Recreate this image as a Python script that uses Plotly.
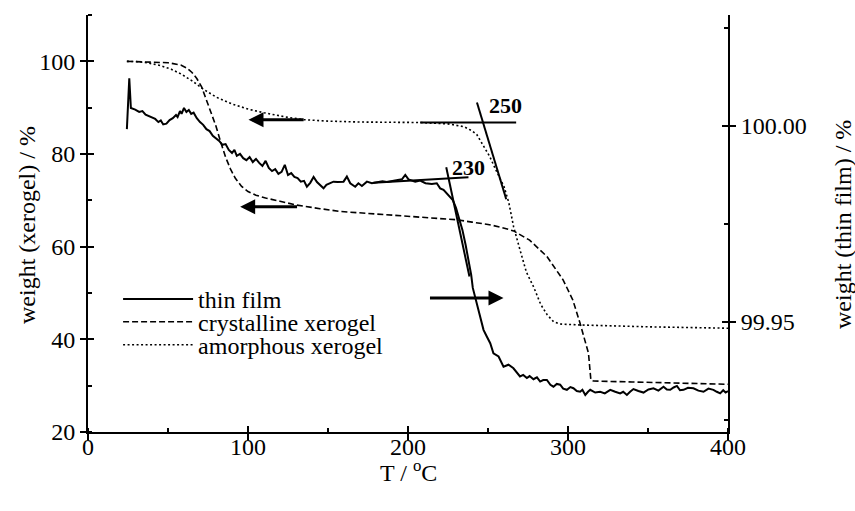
import plotly.graph_objects as go

# ---------------- data ----------------
# thin film (right axis, weight %)
film_T = [24.3, 25.8, 26.8, 29.5, 32, 34, 36, 38, 40, 42, 44, 45.5, 47, 49, 51, 53, 55, 56, 57.5, 58.5,
          60, 61.5, 63, 64.5, 66, 68, 70, 72, 74, 76, 78, 80, 82, 84, 86, 88, 90, 91.5, 93, 95,
          97, 99, 101, 103, 105, 107, 109, 111, 113, 115, 117, 119, 121, 123, 125, 127, 129, 131, 133, 135,
          136.8, 138.9, 141, 143.1, 145, 147.2, 149, 151.4, 153.4, 156, 159.7, 161.8, 163.9, 167, 169, 171.2, 174.3, 177.4, 180.6, 184,
          186.8, 190, 193, 196.2, 198.3, 200.3, 204.5, 207.6, 210.9, 214.9, 218, 220.1, 222.2, 224.3, 226, 228, 230, 232, 234, 236,
          238, 239.5, 240.5, 242, 244, 246, 247.2, 249, 251.4, 253.4, 256.6, 259.7, 262.8, 265.9, 268, 270, 272, 274.3, 276, 278.4,
          280.6, 282.6, 284.5, 286.8, 289, 290.9, 293, 295.1, 297, 299.3, 301.5, 303.4, 305.5, 307.6, 309, 310.8, 312.5, 313.9, 317, 320.1,
          323, 326.4, 329.5, 332.6, 334.5, 336.8, 338.8, 340.9, 344, 347.2, 350.3, 353.4, 356.5, 359.7, 361.8, 363.9, 366, 368.1, 370, 372.2,
          375, 378.4, 381.5, 384.7, 387.8, 390.9, 393, 395.1, 397, 398.5, 400]
film_W = [99.9992, 100.0122, 100.0046, 100.0042, 100.0036, 100.0038, 100.0029, 100.0026, 100.0022, 100.0018,
          100.0010, 100.0014, 100.0004, 100.0006, 100.0015, 100.0020, 100.0028, 100.0023, 100.0038, 100.0031,
          100.0046, 100.0036, 100.0041, 100.0031, 100.0034, 100.0020, 100.0010, 100.0003, 99.9992, 99.9987,
          99.9975, 99.9969, 99.9962, 99.9952, 99.9954, 99.9939, 99.9931, 99.9939, 99.9924, 99.9929,
          99.9918, 99.9913, 99.9921, 99.9908, 99.9916, 99.9906, 99.9898, 99.9911, 99.9893, 99.9885,
          99.9890, 99.9878, 99.9883, 99.9901, 99.9875, 99.9880, 99.9870, 99.9867, 99.9858, 99.9860,
          99.9845, 99.9855, 99.9870, 99.9857, 99.9850, 99.9841, 99.9850, 99.9854, 99.9858, 99.9857,
          99.9858, 99.9871, 99.9854, 99.9845, 99.9854, 99.9847, 99.9858, 99.9854, 99.9856, 99.9859,
          99.9857, 99.9860, 99.9861, 99.9864, 99.9875, 99.9864, 99.9858, 99.9861, 99.9854, 99.9852,
          99.9854, 99.9841, 99.9837, 99.9828, 99.9822, 99.9811, 99.9791, 99.9765, 99.9735, 99.9697,
          99.9658, 99.9620, 99.9587, 99.9564, 99.9526, 99.9500, 99.9480, 99.9465, 99.9446, 99.9420,
          99.9412, 99.9386, 99.9391, 99.9382, 99.9372, 99.9361, 99.9365, 99.9357, 99.9362, 99.9354,
          99.9359, 99.9348, 99.9352, 99.9352, 99.9340, 99.9335, 99.9342, 99.9340, 99.9330, 99.9327,
          99.9334, 99.9331, 99.9324, 99.9322, 99.9327, 99.9314, 99.9322, 99.9327, 99.9320, 99.9322,
          99.9318, 99.9327, 99.9322, 99.9318, 99.9322, 99.9314, 99.9322, 99.9329, 99.9324, 99.9320,
          99.9328, 99.9331, 99.9325, 99.9335, 99.9328, 99.9327, 99.9333, 99.9337, 99.9326, 99.9327,
          99.9332, 99.9331, 99.9325, 99.9322, 99.9330, 99.9327, 99.9322, 99.9318, 99.9326, 99.9320, 99.9324]

# crystalline xerogel (left axis)
cryst_T = [24.3, 30, 40, 50, 58, 62, 65, 68, 71, 74, 77, 80, 83, 86, 89, 92, 96, 100, 105, 111,
           120, 130, 145, 157.6, 174, 182.6, 200, 216, 230.5, 240, 250, 258, 266, 276, 286.8, 297, 303, 307.6, 311, 312.8,
           314.3, 316, 340, 370, 400]
cryst_W = [100.0, 99.95, 99.9, 99.7, 99.2, 98.5, 97.6, 96.3, 94.5, 91.8, 89.0, 86.0, 82.5, 79.3, 76.8, 74.8, 73.0, 71.9, 71.1, 70.5,
           69.8, 69.0, 68.2, 67.6, 67.2, 67.0, 66.6, 66.1, 65.8, 65.3, 64.8, 64.2, 63.4, 61.4, 57.9, 52.8, 48.5, 43.4, 39.5, 37.0,
           31.2, 31.0, 30.8, 30.55, 30.3]

# amorphous xerogel (left axis)
amor_T = [24.3, 30, 37, 45, 52, 58, 65, 72, 80, 90, 100, 110, 125, 135, 150, 170, 207, 225, 235, 240,
          243, 247, 251, 255, 260, 263, 266, 270, 274, 278.4, 283, 287, 291, 295, 307.6, 350, 400]
amor_W = [100.0, 99.95, 99.7, 99.1, 98.3, 97.3, 95.8, 94.0, 92.3, 90.8, 89.7, 88.9, 87.9, 87.4, 87.1, 86.9, 86.8, 86.5, 85.9, 85.0,
          84.2, 82.0, 79.5, 76.5, 73.0, 69.5, 64.3, 59.3, 54.5, 51.4, 47.5, 45.3, 43.8, 43.3, 43.1, 42.7, 42.4]

# onset tangent lines
tan230h_T = [178.4, 237.8]; tan230h_W = [99.9855, 99.9869]
tan230s_T = [223.9, 238.4]; tan230s_W = [99.9895, 99.9616]
tan250h_T = [207.6, 267.6]; tan250h_W = [86.8, 86.8]
tan250s_T = [243.1, 261.4]; tan250s_W = [91.1, 70.25]

# arrows (tail T, head T, level)
arrow_amor = (135.7, 100.3, 87.4)
arrow_cryst = (131.6, 95.1, 68.6)
arrow_film = (212.8, 259.7, 99.9561)

x_ticks = [0, 100, 200, 300, 400]
y_ticks = [20, 40, 60, 80, 100]
y2_ticks = [99.95, 100.00]
y2_ticktext = ["99.95", "100.00"]

FONT = "Liberation Serif"
FS = 24

fig = go.Figure()
fig.add_trace(go.Scatter(x=film_T, y=film_W, yaxis="y2", mode="lines", name="thin film",
                         line=dict(color="black", width=2), legend="legend"))
fig.add_trace(go.Scatter(x=cryst_T, y=cryst_W, mode="lines", name="crystalline xerogel",
                         line=dict(color="black", width=1.6, dash="6px,3px"), legend="legend2"))
fig.add_trace(go.Scatter(x=amor_T, y=amor_W, mode="lines", name="amorphous xerogel",
                         line=dict(color="black", width=1.6, dash="2px,2.5px"), legend="legend3"))
for tx, ty, ax in [(tan230h_T, tan230h_W, "y2"), (tan230s_T, tan230s_W, "y2"),
                   (tan250h_T, tan250h_W, "y"), (tan250s_T, tan250s_W, "y")]:
    fig.add_trace(go.Scatter(x=tx, y=ty, yaxis=ax, mode="lines", showlegend=False,
                             line=dict(color="black", width=2)))
# invisible traces to activate overlay axes (inner halves of crossing ticks)
fig.add_trace(go.Scatter(x=[None], y=[None], xaxis="x2", yaxis="y3", showlegend=False))
fig.add_trace(go.Scatter(x=[None], y=[None], xaxis="x", yaxis="y4", showlegend=False))

common = dict(showgrid=False, zeroline=False, tickfont=dict(family=FONT, size=FS, color="black"),
              tickcolor="black", tickwidth=2)
y2_range = [99.92194, 100.02832]
leg = dict(x=0.047, xanchor="left", yanchor="top", bgcolor="rgba(0,0,0,0)",
           font=dict(family=FONT, size=FS, color="black"), itemwidth=70)
fig.update_layout(
    width=855, height=511,
    margin=dict(l=88, r=127, t=15, b=79),
    paper_bgcolor="white", plot_bgcolor="white",
    font=dict(family=FONT, size=FS, color="black"),
    xaxis=dict(range=[0, 400], tickvals=x_ticks, ticks="outside", ticklen=6, showline=True,
               linecolor="black", linewidth=2, ticklabelstandoff=-14,
               minor=dict(ticks="inside", dtick=50, tick0=0, ticklen=4, tickwidth=2, tickcolor="black"),
               **common),
    xaxis2=dict(range=[0, 400], overlaying="x", anchor="y", side="bottom", tickvals=x_ticks,
                ticks="inside", ticklen=6, showticklabels=False, showline=False, **common),
    yaxis=dict(range=[20, 110], tickvals=y_ticks, ticks="outside", ticklen=6, showline=True,
               linecolor="black", linewidth=2,
               minor=dict(ticks="inside", dtick=10, tick0=0, ticklen=4, tickwidth=2, tickcolor="black"),
               **common),
    yaxis2=dict(range=y2_range, overlaying="y", side="right", anchor="x", tickvals=y2_ticks,
                ticktext=y2_ticktext, ticks="outside", ticklen=6, showline=True, linecolor="black",
                linewidth=2,
                minor=dict(ticks="inside", dtick=0.025, tick0=99.95, ticklen=4, tickwidth=2, tickcolor="black"),
                **common),
    yaxis3=dict(range=[20, 110], overlaying="y", side="left", anchor="x2", tickvals=y_ticks,
                ticks="inside", ticklen=6, showticklabels=False, showline=False, **common),
    yaxis4=dict(range=y2_range, overlaying="y", side="right", anchor="x", tickvals=y2_ticks,
                ticks="inside", ticklen=6, showticklabels=False, showline=False, **common),
    legend=dict(y=0.372, **leg),
    legend2=dict(y=0.3173, **leg),
    legend3=dict(y=0.2621, **leg),
    showlegend=True,
)

ann = [
    dict(text="weight (xerogel) / %", textangle=-90, x=-0.0953, y=0.4964, xref="paper", yref="paper",
         showarrow=False, xanchor="center", yanchor="middle", font=dict(family=FONT, size=FS)),
    dict(text="weight (thin film) / %", textangle=-90, x=1.1797, y=0.4964, xref="paper", yref="paper",
         showarrow=False, xanchor="center", yanchor="middle", font=dict(family=FONT, size=FS)),
    dict(text="T / <sup>o</sup>C", x=0.5, y=-0.0935, xref="paper", yref="paper",
         showarrow=False, xanchor="center", yanchor="middle", font=dict(family=FONT, size=FS)),
    dict(text="<b>230</b>", x=226.4, y=99.9893, xref="x", yref="y2", showarrow=False,
         xanchor="left", yanchor="middle", font=dict(family=FONT, size=22)),
    dict(text="<b>250</b>", x=249.3, y=90.4, xref="x", yref="y", showarrow=False,
         xanchor="left", yanchor="middle", font=dict(family=FONT, size=22)),
]
for (tail, head, lev), yr in [(arrow_amor, "y"), (arrow_cryst, "y"), (arrow_film, "y2")]:
    ann.append(dict(text="", x=head, y=lev, ax=tail, ay=lev, xref="x", yref=yr, axref="x", ayref=yr,
                    showarrow=True, arrowhead=2, arrowsize=1, arrowwidth=3, arrowcolor="black",
                    standoff=0, startstandoff=0))
fig.update_layout(annotations=ann)

fig.write_html("out.html")
